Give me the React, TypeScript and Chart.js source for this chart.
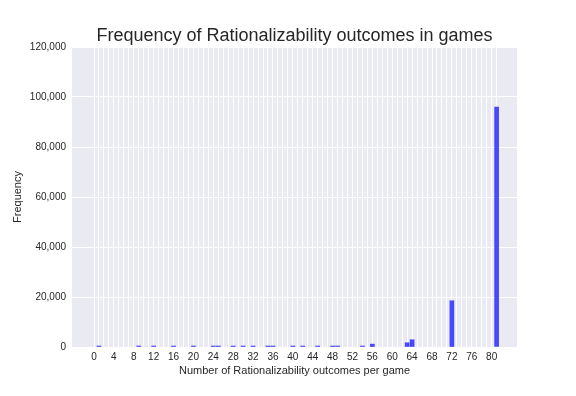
import React, { useEffect, useRef } from 'react';
import { Chart, registerables } from 'chart.js';

Chart.register(...registerables);

const chartTitle = 'Frequency of Rationalizability outcomes in games';
const xAxisTitle = 'Number of Rationalizability outcomes per game';
const yAxisTitle = 'Frequency';

// number of rationalizability outcomes (bin position)
const outcomeCounts = [1, 9, 12, 16, 20, 24, 25, 28, 30, 32, 35, 36, 40, 42, 45, 48, 49, 54, 56, 63, 64, 72, 81];
// frequency of games with that count
const gameFrequencies = [400, 400, 400, 400, 400, 400, 400, 400, 400, 400, 400, 400, 400, 400, 400, 400, 400, 400, 1150, 1700, 2900, 18500, 96000];

const xTickFirst = 0;
const xTickLast = 81;
const xLabelEvery = 4;
const yTickValues = [0, 20000, 40000, 60000, 80000, 100000, 120000];

const TEXT = '#262626';
const FONT = "'Liberation Sans', Arial, sans-serif";

const bgAndTitle = {
  id: 'bgAndTitle',
  beforeDraw(chart: any) {
    const { ctx, chartArea } = chart;
    ctx.save();
    ctx.fillStyle = '#ffffff';
    ctx.fillRect(0, 0, chart.width, chart.height);
    ctx.fillStyle = '#EAEAF2';
    ctx.fillRect(chartArea.left, chartArea.top, chartArea.right - chartArea.left, chartArea.bottom - chartArea.top);
    ctx.restore();
  },
  afterDraw(chart: any) {
    const { ctx, chartArea } = chart;
    ctx.save();
    ctx.fillStyle = TEXT;
    ctx.font = `18px ${FONT}`;
    ctx.textAlign = 'center';
    ctx.textBaseline = 'middle';
    ctx.fillText(chartTitle, (chartArea.left + chartArea.right) / 2, 36);
    ctx.restore();
  },
};

export default function App() {
  const ref = useRef<HTMLCanvasElement | null>(null);

  useEffect(() => {
    document.body.style.margin = '0';
    const canvas = ref.current;
    if (!canvas) return;
    const xTicks: { value: number }[] = [];
    for (let v = xTickFirst; v <= xTickLast; v++) xTicks.push({ value: v });

    const chart = new Chart(canvas, {
      type: 'bar',
      data: {
        datasets: [
          {
            data: outcomeCounts.map((x, i) => ({ x, y: gameFrequencies[i] })),
            backgroundColor: 'rgba(0,0,255,0.7)',
            borderWidth: 0,
            barThickness: 4,
          },
        ],
      },
      plugins: [bgAndTitle],
      options: {
        responsive: false,
        animation: false,
        devicePixelRatio: 1,
        layout: { padding: { left: 0, right: 59, top: 47, bottom: 0 } },
        plugins: { legend: { display: false }, title: { display: false }, tooltip: { enabled: false } },
        scales: {
          x: {
            type: 'linear',
            min: -4.43,
            max: 85.1,
            offset: false,
            grid: { color: '#ffffff', lineWidth: 1, offset: false, drawTicks: false },
            border: { display: false },
            afterBuildTicks: (scale: any) => {
              scale.ticks = xTicks.map((t) => ({ ...t }));
            },
            ticks: {
              autoSkip: false,
              maxRotation: 0,
              minRotation: 0,
              padding: 4,
              color: TEXT,
              font: { family: FONT, size: 10 },
              callback: (v: any) => (Number(v) % xLabelEvery === 0 ? String(v) : ''),
            },
            title: {
              display: true,
              text: xAxisTitle,
              color: TEXT,
              font: { family: FONT, size: 11 },
              padding: { top: 0, bottom: 18 },
            },
            afterFit: (scale: any) => {
              scale.height = 49;
            },
          },
          y: {
            min: 0,
            max: 120000,
            grid: { color: '#ffffff', lineWidth: 1, drawTicks: false },
            border: { display: false },
            afterBuildTicks: (scale: any) => {
              scale.ticks = yTickValues.map((value) => ({ value }));
            },
            ticks: {
              padding: 6,
              color: TEXT,
              font: { family: FONT, size: 10 },
              callback: (v: any) => Number(v).toLocaleString('en-US'),
            },
            title: {
              display: true,
              text: yAxisTitle,
              color: TEXT,
              font: { family: FONT, size: 11 },
              padding: 11,
            },
            afterFit: (scale: any) => {
              scale.width = 72;
            },
          },
        },
      },
    } as any);
    return () => chart.destroy();
  }, []);

  return (
    <div style={{ width: 576, height: 396 }}>
      <canvas ref={ref} width={576} height={396} style={{ display: 'block' }} />
    </div>
  );
}
